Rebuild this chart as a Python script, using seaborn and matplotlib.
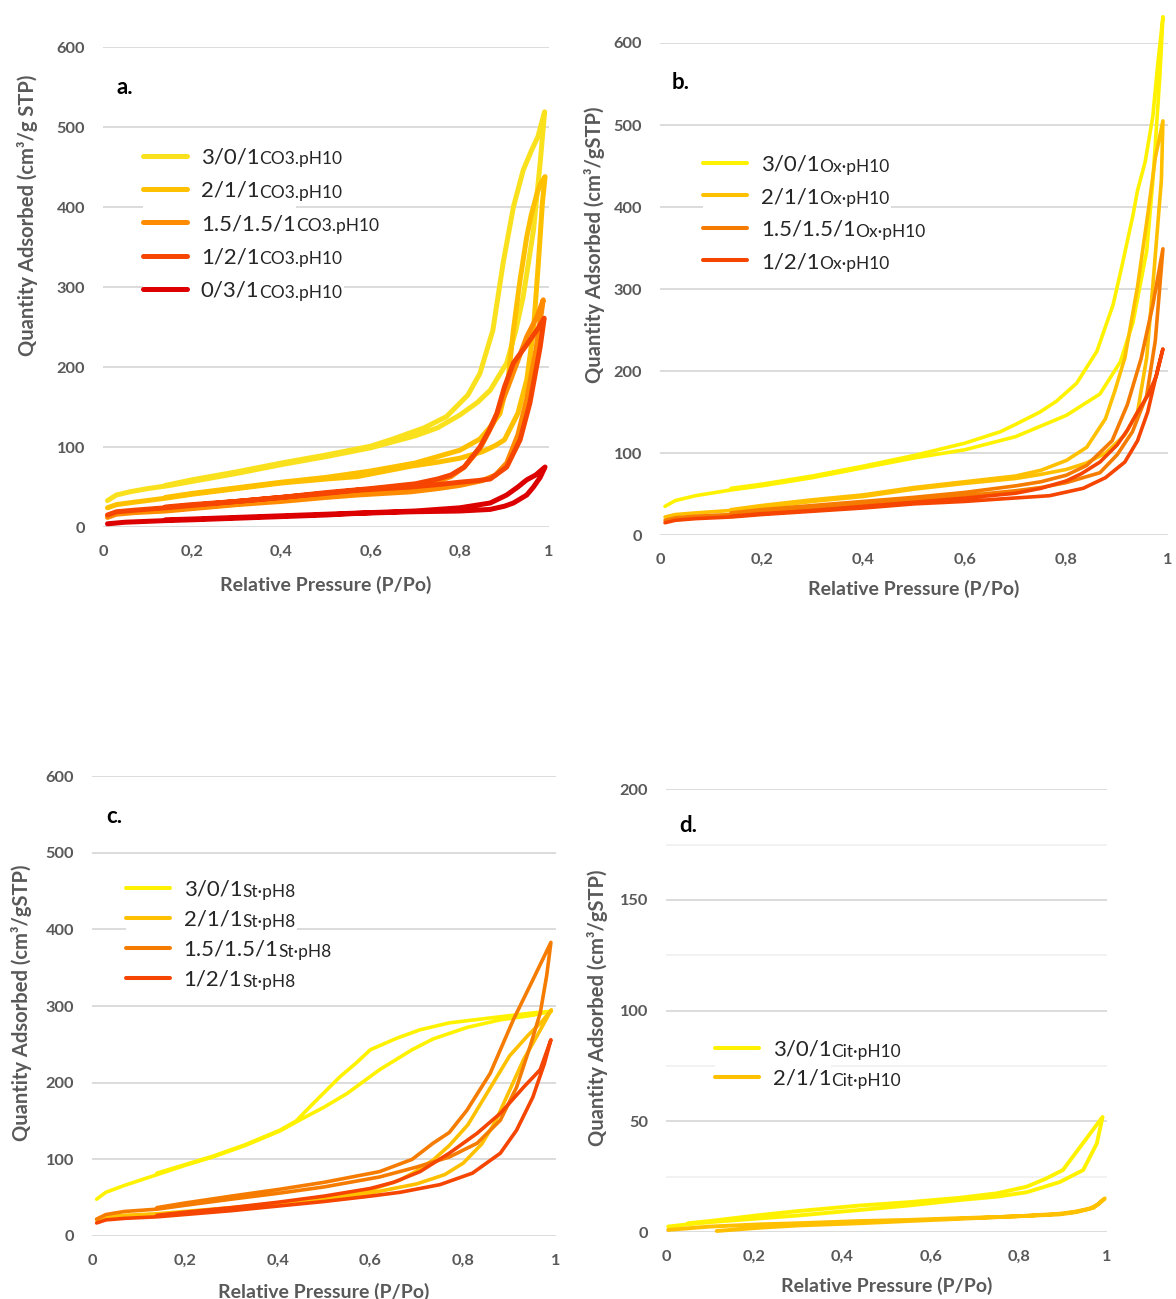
import numpy as np
import seaborn as sns
import matplotlib.pyplot as plt
from matplotlib.lines import Line2D

# ---- values: adsorption branch, then desorption branch back down
# a. CO3 pH10
a_301_p = [0.01, 0.03, 0.06, 0.1, 0.15, 0.2, 0.3, 0.4, 0.5, 0.6, 0.7, 0.75, 0.8, 0.84, 0.868, 0.905, 0.925, 0.942, 0.965, 0.98, 0.99,
           0.975, 0.96, 0.942, 0.92, 0.897, 0.874, 0.845, 0.818, 0.77, 0.72, 0.65, 0.6, 0.5, 0.4, 0.3, 0.2, 0.14]
a_301_v = [33, 40, 44, 48, 52, 57, 67, 78, 88, 99, 114, 124, 140, 156, 171, 205, 245, 288, 371, 455, 519,
           488, 470, 446, 400, 330, 246, 192, 165, 138, 124, 110, 101, 90, 80, 69, 59, 52]
a_211_p = [0.01, 0.03, 0.07, 0.14, 0.2, 0.3, 0.4, 0.5, 0.57, 0.69, 0.75, 0.8, 0.85, 0.88, 0.9, 0.93, 0.95, 0.965, 0.976, 0.985, 0.991,
           0.98, 0.973, 0.96, 0.95, 0.935, 0.92, 0.908, 0.89, 0.868, 0.845, 0.8, 0.75, 0.7, 0.6, 0.5, 0.4, 0.3, 0.2, 0.14]
a_211_v = [24, 28, 31, 36, 41, 48, 55, 60, 63, 76, 81, 86, 94, 102, 109, 142, 184, 246, 330, 405, 438,
           428, 417, 390, 363, 309, 246, 184, 142, 125, 110, 96, 88, 80, 70, 62, 56, 49, 42, 37]
a_15_p = [0.01, 0.03, 0.07, 0.14, 0.2, 0.3, 0.4, 0.5, 0.57, 0.69, 0.75, 0.8, 0.85, 0.88, 0.905, 0.93, 0.95, 0.97, 0.987,
          0.973, 0.95, 0.928, 0.905, 0.875, 0.845, 0.81, 0.78, 0.75, 0.7, 0.6, 0.5, 0.4, 0.3, 0.2, 0.14]
a_15_v = [12, 16, 18, 20, 23, 28, 32, 37, 40, 44, 48, 52, 58, 65, 80, 115, 160, 220, 284,
          263, 238, 205, 171, 130, 98, 75, 63, 57, 50, 44, 39, 34, 29, 24, 21]
a_121_p = [0.01, 0.03, 0.07, 0.14, 0.2, 0.3, 0.4, 0.5, 0.57, 0.69, 0.75, 0.8, 0.84, 0.868, 0.905, 0.935, 0.957, 0.98, 0.989,
           0.975, 0.95, 0.92, 0.9, 0.883, 0.865, 0.845, 0.81, 0.78, 0.75, 0.7, 0.6, 0.5, 0.4, 0.3, 0.2, 0.14]
a_121_v = [15, 19, 21, 24, 27, 32, 37, 42, 46, 50, 53, 56, 58, 60, 75, 109, 155, 225, 261,
           248, 228, 205, 175, 142, 120, 100, 75, 65, 60, 54, 48, 43, 37, 32, 28, 25]
a_031_p = [0.01, 0.05, 0.14, 0.2, 0.3, 0.4, 0.5, 0.57, 0.69, 0.8, 0.868, 0.9, 0.92, 0.95, 0.965, 0.98, 0.991,
           0.97, 0.95, 0.93, 0.905, 0.868, 0.8, 0.7, 0.6, 0.5, 0.4, 0.3, 0.2, 0.14]
a_031_v = [4, 6, 8, 9, 11, 13, 15, 17, 19, 20, 22, 26, 30, 40, 50, 62, 75,
           65, 59, 50, 40, 30, 24, 20, 18, 16, 14, 12, 10, 9]

# b. Ox pH10
b_301_p = [0.01, 0.03, 0.07, 0.14, 0.2, 0.3, 0.4, 0.5, 0.6, 0.7, 0.8, 0.866, 0.906, 0.931, 0.958, 0.97, 0.984, 0.99,
           0.98, 0.97, 0.955, 0.94, 0.931, 0.91, 0.892, 0.86, 0.82, 0.78, 0.748, 0.7, 0.67, 0.6, 0.5, 0.4, 0.3, 0.2, 0.14]
b_301_v = [35, 42, 48, 55, 60, 70, 82, 94, 104, 120, 146, 172, 211, 259, 346, 430, 560, 632,
           575, 510, 455, 420, 390, 330, 281, 224, 185, 163, 150, 135, 126, 112, 97, 84, 72, 62, 57]
b_211_p = [0.01, 0.03, 0.07, 0.14, 0.2, 0.3, 0.4, 0.5, 0.6, 0.7, 0.75, 0.8, 0.84, 0.877, 0.915, 0.94, 0.958, 0.97, 0.987, 0.99,
           0.975, 0.96, 0.94, 0.915, 0.895, 0.877, 0.84, 0.8, 0.75, 0.7, 0.6, 0.5, 0.4, 0.3, 0.2, 0.14]
b_211_v = [22, 25, 27, 30, 34, 41, 47, 56, 63, 69, 74, 80, 88, 100, 122, 150, 216, 303, 433, 505,
           460, 390, 303, 216, 175, 142, 107, 91, 79, 72, 65, 58, 49, 43, 36, 31]
b_15_p = [0.01, 0.03, 0.07, 0.14, 0.2, 0.3, 0.4, 0.5, 0.6, 0.7, 0.75, 0.8, 0.866, 0.9, 0.93, 0.958, 0.975, 0.99,
          0.97, 0.947, 0.92, 0.89, 0.84, 0.8, 0.75, 0.7, 0.6, 0.5, 0.4, 0.3, 0.2, 0.14]
b_15_v = [18, 21, 23, 25, 28, 33, 38, 43, 48, 54, 58, 64, 76, 98, 126, 170, 237, 349,
          280, 215, 159, 115, 85, 73, 65, 60, 52, 46, 41, 36, 31, 27]
b_121_p = [0.01, 0.03, 0.07, 0.14, 0.2, 0.3, 0.4, 0.5, 0.6, 0.67, 0.767, 0.833, 0.877, 0.915, 0.94, 0.96, 0.98, 0.99,
           0.977, 0.96, 0.94, 0.92, 0.9, 0.866, 0.83, 0.8, 0.75, 0.7, 0.6, 0.5, 0.4, 0.3, 0.2, 0.14]
b_121_v = [15, 18, 20, 22, 25, 29, 33, 38, 41, 44, 48, 57, 70, 89, 115, 150, 203, 227,
           194, 170, 150, 128, 110, 89, 75, 66, 57, 51, 45, 40, 35, 30, 26, 23]

# c. St pH8
c_301_p = [0.01, 0.03, 0.07, 0.14, 0.2, 0.26, 0.33, 0.405, 0.45, 0.5, 0.55, 0.62, 0.69, 0.735, 0.808, 0.88, 0.95, 0.99,
           0.95, 0.88, 0.77, 0.707, 0.657, 0.6, 0.57, 0.535, 0.477, 0.44, 0.405, 0.33, 0.26, 0.2, 0.14]
c_301_v = [48, 57, 66, 80, 92, 103, 118, 137, 152, 168, 186, 217, 243, 257, 272, 282, 288, 293,
           291, 286, 278, 269, 258, 243, 226, 208, 173, 150, 138, 119, 104, 93, 82]
c_211_p = [0.01, 0.03, 0.07, 0.14, 0.2, 0.3, 0.4, 0.5, 0.6, 0.7, 0.76, 0.8, 0.84, 0.87, 0.9, 0.93, 0.96, 0.99,
           0.97, 0.94, 0.9, 0.87, 0.84, 0.81, 0.77, 0.735, 0.7, 0.664, 0.6, 0.5, 0.4, 0.3, 0.2, 0.14]
c_211_v = [21, 25, 27, 29, 32, 37, 42, 48, 56, 68, 80, 95, 120, 150, 190, 230, 262, 295,
           280, 262, 235, 205, 175, 145, 118, 99, 85, 73, 60, 50, 43, 36, 30, 27]
c_15_p = [0.01, 0.03, 0.07, 0.14, 0.2, 0.3, 0.405, 0.5, 0.62, 0.7, 0.77, 0.83, 0.88, 0.915, 0.944, 0.966, 0.98, 0.989,
          0.95, 0.908, 0.858, 0.808, 0.77, 0.735, 0.69, 0.62, 0.5, 0.405, 0.3, 0.2, 0.14]
c_15_v = [22, 28, 32, 35, 40, 48, 56, 64, 77, 90, 103, 121, 151, 194, 247, 291, 340, 383,
          334, 282, 212, 164, 135, 121, 100, 84, 70, 61, 52, 43, 37]
c_121_p = [0.01, 0.03, 0.07, 0.14, 0.2, 0.3, 0.4, 0.5, 0.6, 0.664, 0.75, 0.82, 0.88, 0.915, 0.95, 0.975, 0.989,
           0.966, 0.93, 0.88, 0.83, 0.77, 0.707, 0.65, 0.6, 0.5, 0.4, 0.3, 0.2, 0.14]
c_121_v = [17, 21, 23, 25, 28, 33, 39, 45, 52, 57, 67, 82, 108, 138, 181, 225, 256,
           217, 194, 160, 134, 108, 84, 70, 62, 52, 44, 37, 31, 27]

# d. Cit pH10
d_301_p = [0.005, 0.05, 0.1, 0.2, 0.3, 0.44, 0.55, 0.667, 0.75, 0.818, 0.893, 0.946, 0.977, 0.99,
           0.96, 0.93, 0.9, 0.86, 0.818, 0.75, 0.667, 0.55, 0.44, 0.3, 0.213, 0.1, 0.05]
d_301_v = [2.5, 3.5, 4.5, 6, 7.5, 10, 12, 14.5, 16, 18, 22.6, 28, 40, 52,
           44, 36, 28, 24, 20.5, 17.5, 15.5, 13.5, 12, 9.5, 7.7, 5, 4]
d_211_p = [0.005, 0.1, 0.213, 0.3, 0.44, 0.55, 0.667, 0.75, 0.82, 0.893, 0.93, 0.96, 0.98, 0.995,
           0.97, 0.93, 0.893, 0.8, 0.667, 0.55, 0.44, 0.3, 0.213, 0.115]
d_211_v = [1, 2.5, 3.5, 4, 5, 5.5, 6.3, 6.8, 7.3, 8, 9, 10.5, 12.5, 15.2,
           11, 9.3, 8.3, 7.2, 6, 5, 4, 3, 2, 0.5]

names_4 = ['3/0/1', '2/1/1', '1.5/1.5/1', '1/2/1']
names_5 = names_4 + ['0/3/1']
colors_a = ['#FAE11E', '#FFC000', '#FF8C00', '#F54500', '#DC0000']
colors_b = ['#FFF200', '#FFC000', '#F57C00', '#F54500']

sns.set_theme(style='white')
plt.rcParams['font.family'] = ['Lato', 'DejaVu Sans']

GRID = '#d9d9d9'
GREY = '#595959'
XT = [0, 0.2, 0.4, 0.6, 0.8, 1]
XTL = ['0', '0,2', '0,4', '0,6', '0,8', '1']


def isotherm(ax, p, v, color, lw):
    sns.lineplot(x=p, y=v, sort=False, estimator=None, color=color, lw=lw, ax=ax,
                 legend=False, clip_on=False,
                 solid_capstyle='round', solid_joinstyle='round')


def setup(ax, ymax, ystep, ylabel, ylab_xy, xlab_y, letter, letter_xy):
    ax.set_xlim(0, 1)
    ax.set_ylim(0, ymax)
    ax.set_yticks(np.arange(0, ymax + 1, ystep))
    ax.set_xticks(XT, XTL)
    ax.set_axisbelow(True)
    ax.grid(axis='y', color=GRID, lw=1.3)
    ax.grid(axis='x', visible=False)
    sns.despine(ax=ax, left=True, bottom=True)
    ax.tick_params(length=0, pad=13, labelsize=11.8, labelcolor=GREY)
    for t in ax.get_xticklabels() + ax.get_yticklabels():
        t.set_fontweight('bold')
    ax.set_xlabel('Relative Pressure (P/Po)', fontsize=14, fontweight='bold', color=GREY)
    ax.set_ylabel(ylabel, fontsize=14.5, fontweight='bold', color=GREY)
    ax.xaxis.set_label_coords(0.5, xlab_y)
    ax.yaxis.set_label_coords(*ylab_xy)
    ax.text(letter_xy[0], letter_xy[1], letter, transform=ax.transAxes,
            fontsize=16, fontweight='bold', color='black', va='center')


def add_legend(ax, colors, names, suffix, anchor, spacing, hlw):
    handles = [Line2D([], [], color=c, lw=hlw, solid_capstyle='round') for c in colors]
    leg = ax.legend(handles, names, loc='upper left', bbox_to_anchor=anchor,
                    frameon=True, facecolor='white', edgecolor='none', framealpha=1,
                    fontsize=16, handlelength=2.0, handletextpad=0.6, labelspacing=spacing,
                    borderpad=0, borderaxespad=0)
    for t in leg.get_texts():
        ax.annotate(suffix, xy=(1, 0), xycoords=t, va='bottom', ha='left', fontsize=12.5,
                    zorder=6, bbox=dict(fc='white', ec='none', pad=1))


fig = plt.figure(figsize=(11.76, 12.99), dpi=100)
ax_a = fig.add_axes([0.0876, 0.5943, 0.3793, 0.3695])
ax_b = fig.add_axes([0.5612, 0.5881, 0.4320, 0.3788])
ax_c = fig.add_axes([0.0782, 0.0485, 0.3946, 0.3541])
ax_d = fig.add_axes([0.5663, 0.0515, 0.3750, 0.3410])

# a.
for p, v, c in zip([a_301_p, a_211_p, a_15_p, a_121_p, a_031_p],
                   [a_301_v, a_211_v, a_15_v, a_121_v, a_031_v], colors_a):
    isotherm(ax_a, p, v, c, 3.6)
setup(ax_a, 600, 100, 'Quantity Adsorbed (cm³/g STP)', (-0.146, 0.65), -0.102, 'a.', (0.031, 0.915))
add_legend(ax_a, colors_a, names_5, 'CO3.pH10', (0.0897, 0.791), 0.60, 3.6)

# b.
for p, v, c in zip([b_301_p, b_211_p, b_15_p, b_121_p],
                   [b_301_v, b_211_v, b_15_v, b_121_v], colors_b):
    isotherm(ax_b, p, v, c, 2.6)
setup(ax_b, 600, 100, 'Quantity Adsorbed (cm³/gSTP)', (-0.108, 0.589), -0.091, 'b.', (0.022, 0.919))
add_legend(ax_b, colors_b, names_4, 'Ox·pH10', (0.0846, 0.773), 0.56, 2.9)

# c.
for p, v, c in zip([c_301_p, c_211_p, c_15_p, c_121_p],
                   [c_301_v, c_211_v, c_15_v, c_121_v], colors_b):
    isotherm(ax_c, p, v, c, 2.6)
setup(ax_c, 600, 100, 'Quantity Adsorbed (cm³/gSTP)', (-0.129, 0.507), -0.102, 'c.', (0.030, 0.913))
add_legend(ax_c, colors_b, names_4, 'St·pH8', (0.073, 0.775), 0.45, 2.9)

# d.
for p, v, c in zip([d_301_p, d_211_p], [d_301_v, d_211_v], colors_b[:2]):
    isotherm(ax_d, p, v, c, 2.8)
setup(ax_d, 200, 50, 'Quantity Adsorbed (cm³/gSTP)', (-0.131, 0.506), -0.102, 'd.', (0.029, 0.917))
ax_d.set_yticks(np.arange(25, 200, 50), minor=True)
ax_d.grid(axis='y', which='minor', color='#efefef', lw=1.1)
ax_d.tick_params(which='minor', length=0)
add_legend(ax_d, colors_b[:2], names_4[:2], 'Cit·pH10', (0.111, 0.434), 0.41, 2.9)

fig.savefig('out.png', dpi=100, facecolor='white')
